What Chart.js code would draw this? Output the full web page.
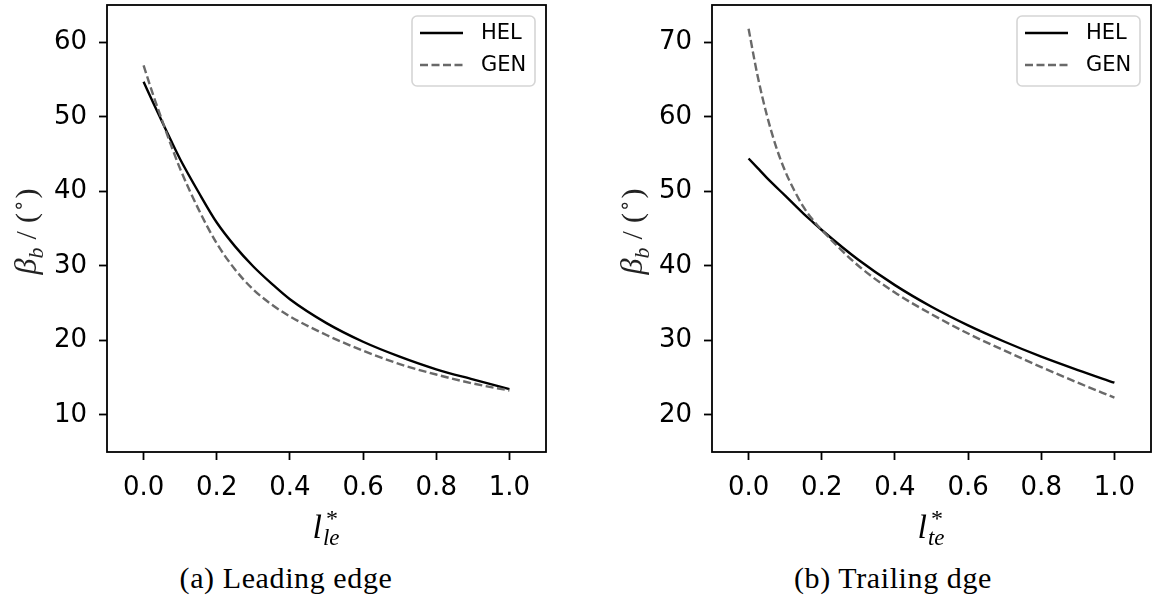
<!DOCTYPE html>
<html>
<head>
<meta charset="utf-8">
<title>Blade angle distribution</title>
<script src="https://cdn.jsdelivr.net/npm/chart.js@4.4.1/dist/chart.umd.min.js"></script>
<style>
  html, body { margin: 0; padding: 0; background: #fff; }
  #fig { position: relative; width: 1158px; height: 608px; overflow: hidden; background: #fff; }
  .panel { position: absolute; top: 0; height: 560px; }
  .cap {
    position: absolute; top: 561px;
    font-family: "Liberation Serif", "DejaVu Serif", serif;
    font-size: 30px; letter-spacing: 0.6px; color: #000; white-space: nowrap;
    transform: translateX(-50%);
  }
</style>
</head>
<body>
<div id="fig">
  <div class="panel" style="left:0; width:580px;"><canvas id="chartLe"></canvas></div>
  <div class="panel" style="left:580px; width:578px;"><canvas id="chartTe"></canvas></div>
  <div class="cap" style="left:286px;">(a) Leading edge</div>
  <div class="cap" style="left:893px;">(b) Trailing dge</div>
</div>
<script>
// Normalised length positions along the leading edge and the blade angle (deg)
const leX   = [0, 0.025, 0.05, 0.075, 0.1, 0.15, 0.2, 0.25, 0.3, 0.35, 0.4, 0.5, 0.6, 0.7, 0.8, 0.9, 1.0];
const leHEL = [54.7, 52.0, 49.4, 46.8, 44.3, 39.9, 35.8, 32.6, 29.9, 27.6, 25.5, 22.3, 19.8, 17.8, 16.1, 14.75, 13.45];
const leGEN = [56.9, 53.1, 49.6, 46.2, 43.0, 37.6, 33.0, 29.5, 26.8, 24.8, 23.2, 20.7, 18.6, 16.8, 15.4, 14.2, 13.25];

// Normalised length positions along the trailing edge and the blade angle (deg)
const teX   = [0, 0.025, 0.05, 0.075, 0.1, 0.125, 0.15, 0.175, 0.2, 0.3, 0.4, 0.5, 0.6, 0.7, 0.8, 0.9, 1.0];
const teHEL = [54.4, 53.1, 51.8, 50.6, 49.4, 48.2, 47.0, 45.9, 44.8, 40.8, 37.4, 34.5, 32.0, 29.8, 27.8, 26.0, 24.3];
const teGEN = [71.8, 65.4, 60.2, 56.0, 52.7, 50.1, 47.9, 46.2, 44.8, 40.0, 36.4, 33.5, 30.9, 28.6, 26.4, 24.3, 22.3];

// Tick values
const xTicks   = [0, 0.2, 0.4, 0.6, 0.8, 1.0];
const leYTicks = [10, 20, 30, 40, 50, 60];
const teYTicks = [20, 30, 40, 50, 60, 70];

const seriesNames = ['HEL', 'GEN'];

const zip = (xs, ys) => xs.map((x, i) => ({ x: x, y: ys[i] }));

const TICK_FONT = { family: '"DejaVu Sans", sans-serif', size: 26 };
const SERIF = '"Liberation Serif", "DejaVu Serif", serif';

// Text runs laid out one after another along the baseline
function measureRuns(ctx, runs) {
  let w = 0;
  runs.forEach(r => {
    ctx.font = r.font;
    w += ctx.measureText(r.text).width + (r.gap || 0);
  });
  return w;
}
function drawRuns(ctx, runs, x, y) {
  runs.forEach(r => {
    ctx.font = r.font;
    ctx.fillText(r.text, x, y + (r.dy || 0));
    x += ctx.measureText(r.text).width + (r.gap || 0);
  });
}

// Frame, axis titles and legend box
const decorPlugin = {
  id: 'decor',
  afterDatasetsDraw(chart, args, opts) {
    const { ctx, chartArea: a } = chart;
    ctx.save();

    // axes frame
    ctx.strokeStyle = '#000';
    ctx.lineWidth = 1.8;
    ctx.strokeRect(a.left, a.top, a.right - a.left, a.bottom - a.top);

    // legend
    const lw = 123, lh = 70;
    const lx = a.right - 11 - lw, ly = a.top + 11;
    ctx.beginPath();
    ctx.roundRect(lx, ly, lw, lh, 5);
    ctx.fillStyle = 'rgba(255,255,255,0.8)';
    ctx.fill();
    ctx.strokeStyle = '#d5d5d5';
    ctx.lineWidth = 1.6;
    ctx.stroke();
    chart.data.datasets.forEach((ds, i) => {
      const y = ly + 17 + i * 32;
      ctx.beginPath();
      ctx.setLineDash(ds.borderDash || []);
      ctx.strokeStyle = ds.borderColor;
      ctx.lineWidth = ds.borderWidth;
      ctx.moveTo(lx + 8, y);
      ctx.lineTo(lx + 51, y);
      ctx.stroke();
      ctx.setLineDash([]);
      ctx.fillStyle = '#000';
      ctx.font = '21px "DejaVu Sans", sans-serif';
      ctx.textAlign = 'left';
      ctx.textBaseline = 'middle';
      ctx.fillText(ds.label, lx + 69, y + 1);
    });

    // y axis title: beta_b / (deg), rotated
    ctx.fillStyle = '#222';
    ctx.textBaseline = 'alphabetic';
    ctx.textAlign = 'left';
    const yRuns = [
      { text: 'β', font: 'italic 32px ' + SERIF },
      { text: 'b', font: 'italic 22px ' + SERIF, dy: 7, gap: 8 },
      { text: '/', font: '30px ' + SERIF, gap: 8 },
      { text: '(', font: '30px ' + SERIF, gap: 1 },
      { text: '∘', font: '20px "DejaVu Sans", sans-serif', dy: -11, gap: 1 },
      { text: ')', font: '30px ' + SERIF }
    ];
    const yw = measureRuns(ctx, yRuns);
    ctx.save();
    ctx.translate(a.left - opts.yTitleOffset, (a.top + a.bottom) / 2 + 3);
    ctx.rotate(-Math.PI / 2);
    drawRuns(ctx, yRuns, -yw / 2, 10);
    ctx.restore();

    // x axis title: l*_sub
    ctx.fillStyle = '#000';
    ctx.font = 'italic 34px ' + SERIF;
    const lW = ctx.measureText('l').width;
    ctx.font = 'italic 23px ' + SERIF;
    const subW = ctx.measureText(opts.xSub).width;
    const total = lW + 2 + subW;
    const x0 = (a.left + a.right) / 2 - total / 2;
    const base = a.bottom + 86;
    ctx.font = 'italic 34px ' + SERIF;
    ctx.fillText('l', x0, base);
    ctx.font = '24px ' + SERIF;
    ctx.fillText('*', x0 + lW + 4, base - 12);
    ctx.font = 'italic 23px ' + SERIF;
    ctx.fillText(opts.xSub, x0 + lW + 1, base + 7);

    ctx.restore();
  }
};

function makeScales(yMin, yMax, yTicks, yWidth) {
  return {
    x: {
      type: 'linear', min: -0.1, max: 1.1,
      afterBuildTicks: s => { s.ticks = xTicks.map(v => ({ value: v })); },
      afterFit: s => { s.height = 108; s.paddingLeft = 0; s.paddingRight = 0; },
      border: { display: false },
      grid: { drawOnChartArea: false, drawTicks: true, tickLength: 8, tickWidth: 1.8, tickColor: '#000' },
      ticks: { font: TICK_FONT, color: '#000', padding: 13, maxRotation: 0, autoSkip: false,
               callback: v => Number(v).toFixed(1) }
    },
    y: {
      type: 'linear', min: yMin, max: yMax,
      afterBuildTicks: s => { s.ticks = yTicks.map(v => ({ value: v })); },
      afterFit: s => { s.width = yWidth; s.paddingTop = 0; s.paddingBottom = 0; },
      border: { display: false },
      grid: { drawOnChartArea: false, drawTicks: true, tickLength: 8, tickWidth: 1.8, tickColor: '#000' },
      ticks: { font: TICK_FONT, color: '#000', padding: 12, autoSkip: false,
               callback: v => String(v) }
    }
  };
}

function makeDatasets(xs, hel, gen) {
  const common = { pointRadius: 0, borderWidth: 2.4, fill: false, cubicInterpolationMode: 'monotone' };
  return [
    Object.assign({ label: seriesNames[0], data: zip(xs, hel), borderColor: '#000000', order: 2 }, common),
    Object.assign({ label: seriesNames[1], data: zip(xs, gen), borderColor: '#696969',
                    borderDash: [8, 3.5], order: 1 }, common)
  ];
}

function makeChart(id, xs, hel, gen, yMin, yMax, yTicks, yWidth, padRight, yTitleOffset, xSub) {
  return new Chart(document.getElementById(id), {
    type: 'line',
    data: { datasets: makeDatasets(xs, hel, gen) },
    options: {
      responsive: true,
      maintainAspectRatio: false,
      animation: false,
      devicePixelRatio: 1,
      layout: { padding: { left: 0, top: 5, right: padRight, bottom: 0 } },
      scales: makeScales(yMin, yMax, yTicks, yWidth),
      plugins: {
        legend: { display: false },
        tooltip: { enabled: false },
        decor: { yTitleOffset: yTitleOffset, xSub: xSub }
      }
    },
    plugins: [decorPlugin]
  });
}

makeChart('chartLe', leX, leHEL, leGEN, 5, 65, leYTicks, 107, 34, 81, 'le');
makeChart('chartTe', teX, teHEL, teGEN, 15, 75, teYTicks, 132, 7, 80, 'te');
</script>
</body>
</html>
